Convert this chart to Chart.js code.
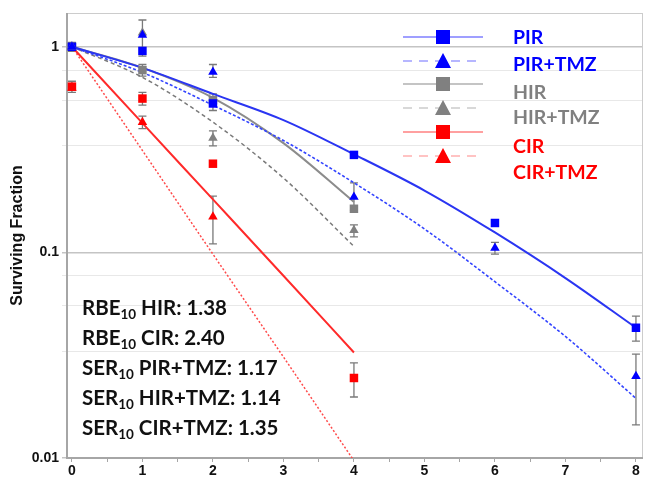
<!DOCTYPE html>
<html>
<head>
<meta charset="utf-8">
<script src="https://cdn.jsdelivr.net/npm/chart.js@4/dist/chart.umd.min.js"></script>
<style>
  body { margin: 0; background: #fff; }
  #wrap { width: 649px; height: 481px; position: relative; }
</style>
</head>
<body>
<div id="wrap"><canvas id="c"></canvas></div>
<script>
'use strict';

// measured doses (Gy)
const doses = [0, 1, 2, 4, 6, 8];
const dosesShort = [0, 1, 2, 4];
const fitDoses = [0, 1, 2, 3, 4, 5, 6, 7, 8];
const fitDosesShort = [0, 1, 2, 3, 4];

// surviving fraction, measured points
const pirVals = [1.0, 0.955, 0.53, 0.298, 0.139, 0.043];
const pirTmzVals = [1.0, 1.14, 0.755, 0.186, 0.105, 0.025];
const hirVals = [1.0, 0.77, 0.55, 0.163];
const hirTmzVals = [1.0, 1.17, 0.36, 0.128];
const cirVals = [0.64, 0.56, 0.27, 0.0245];
const cirTmzVals = [0.63, 0.43, 0.149];

// error bars [low, high], null = none
const pirErr = [null, null, null, null, null, [0.037, 0.049]];
const pirTmzErr = [null, null, [0.71, 0.82], [0.16, 0.218], [0.098, 0.112], [0.0145, 0.032]];
const hirErr = [[0.95, 1.05], [0.72, 0.82], [0.49, 0.59], null];
const hirTmzErr = [null, [0.9, 1.35], [0.33, 0.39], [0.119, 0.136]];
const cirErr = [[0.6, 0.68], [0.52, 0.6], null, [0.0198, 0.029]];
const cirTmzErr = [null, [0.4, 0.46], [0.11, 0.188]];

// fitted curves
const pirFit = [1, 0.79, 0.59, 0.44, 0.30, 0.20, 0.125, 0.075, 0.043];
const pirTmzFit = [1, 0.75, 0.52, 0.35, 0.218, 0.13, 0.072, 0.039, 0.0195];
const hirFit = [1, 0.79, 0.565, 0.34, 0.176];
const hirTmzFit = [1, 0.71, 0.43, 0.23, 0.107];
const cirFit = [1, 0.425, 0.181, 0.077, 0.0326];
const cirTmzFit = [1, 0.313, 0.098, 0.031, 0.0097];

// y grid positions and tick labels
const yGrid = [0.01, 0.033, 0.055, 0.077, 0.1, 0.33, 0.55, 0.77, 1];
const yLabels = { 1: '1', 0.1: '0.1', 0.01: '0.01' };

// legend and annotation text
const legendLabels = ['PIR', 'PIR+TMZ', 'HIR', 'HIR+TMZ', 'CIR', 'CIR+TMZ'];
const notes = [
  ['RBE', '10', ' HIR: 1.38'],
  ['RBE', '10', ' CIR: 2.40'],
  ['SER', '10', ' PIR+TMZ: 1.17'],
  ['SER', '10', ' HIR+TMZ: 1.14'],
  ['SER', '10', ' CIR+TMZ: 1.35']
];

const BLUE = '#0000ff', GRAY = '#808080', RED = '#ff0000';

function pts(xs, ys) {
  return ys.map((v, i) => ({ x: xs[i], y: v }));
}

function fitLine(xs, ys, color, dash, width) {
  return {
    data: pts(xs, ys), showLine: true, pointRadius: 0, borderColor: color,
    borderWidth: width, borderDash: dash, cubicInterpolationMode: 'monotone',
    order: 2, clip: 0
  };
}

function marks(xs, ys, err, color, style, r) {
  return {
    data: pts(xs, ys), err: err, showLine: false, pointStyle: style,
    pointRadius: r, backgroundColor: color, borderColor: color, borderWidth: 0, order: 1
  };
}

// error bars under the markers
const errorBars = {
  id: 'errorBars',
  beforeDatasetsDraw(chart) {
    const ctx = chart.ctx, xs = chart.scales.x, ys = chart.scales.y;
    ctx.save();
    ctx.strokeStyle = '#7a7a7a';
    ctx.lineWidth = 1.3;
    chart.data.datasets.forEach(ds => {
      if (!ds.err) return;
      ds.err.forEach((e, i) => {
        if (!e) return;
        const px = xs.getPixelForValue(ds.data[i].x);
        const lo = ys.getPixelForValue(e[0]), hi = ys.getPixelForValue(e[1]);
        ctx.beginPath();
        ctx.moveTo(px, lo); ctx.lineTo(px, hi);
        ctx.moveTo(px - 4, lo); ctx.lineTo(px + 4, lo);
        ctx.moveTo(px - 4, hi); ctx.lineTo(px + 4, hi);
        ctx.stroke();
      });
    });
    ctx.restore();
  }
};

// plot frame
const frame = {
  id: 'frame',
  beforeDatasetsDraw(chart) {
    const a = chart.chartArea, ctx = chart.ctx;
    ctx.save();
    ctx.strokeStyle = '#cccccc';
    ctx.lineWidth = 1;
    ctx.strokeRect(a.left + 0.5, a.top + 0.5, a.right - a.left - 1, a.bottom - a.top - 1);
    ctx.strokeStyle = '#a6a6a6';
    ctx.lineWidth = 2;
    ctx.beginPath();
    ctx.moveTo(a.left, a.top); ctx.lineTo(a.left, a.bottom); ctx.lineTo(a.right, a.bottom);
    ctx.stroke();
    ctx.restore();
  }
};

// legend block and RBE / SER text
const extras = {
  id: 'extras',
  afterDraw(chart) {
    const ctx = chart.ctx;
    const cols = [BLUE, BLUE, GRAY, GRAY, RED, RED];
    const lineCols = ['#7f7fff', '#9f9fff', '#b0b0b0', '#cccccc', '#ff8080', '#ffb0b0'];
    const rowY = [37, 61, 84, 108, 132, 156];
    const textY = [38, 65, 93, 118, 147, 173];
    ctx.save();
    legendLabels.forEach((lab, i) => {
      ctx.strokeStyle = lineCols[i];
      ctx.lineWidth = 1.5;
      ctx.setLineDash(i % 2 ? [9, 7] : []);
      ctx.beginPath();
      ctx.moveTo(403, rowY[i]); ctx.lineTo(483, rowY[i]);
      ctx.stroke();
      ctx.setLineDash([]);
      ctx.fillStyle = cols[i];
      if (i % 2 === 0) {
        ctx.fillRect(436, rowY[i] - 7, 14, 14);
      } else {
        ctx.beginPath();
        ctx.moveTo(443, rowY[i] - 8); ctx.lineTo(451, rowY[i] + 7); ctx.lineTo(435, rowY[i] + 7);
        ctx.closePath(); ctx.fill();
      }
      ctx.font = 'bold 19.5px Lato';
      ctx.textBaseline = 'middle';
      ctx.fillText(lab, 513, textY[i]);
    });

    ctx.fillStyle = '#111';
    ctx.textBaseline = 'middle';
    notes.forEach((n, i) => {
      const y = 308 + i * 30;
      let x = 82;
      ctx.font = 'bold 20.5px Lato';
      ctx.fillText(n[0], x, y);
      x += ctx.measureText(n[0]).width;
      ctx.font = 'bold 13.5px Lato';
      ctx.fillText(n[1], x, y + 7);
      x += ctx.measureText(n[1]).width;
      ctx.font = 'bold 20.5px Lato';
      ctx.fillText(n[2], x, y);
    });
    ctx.restore();
  }
};

const datasets = [
  fitLine(fitDoses, pirFit, '#2a35f2', [], 2),
  fitLine(fitDoses, pirTmzFit, '#3344ff', [3, 2], 1.6),
  fitLine(fitDosesShort, hirFit, '#8c8c8c', [], 2),
  fitLine(fitDosesShort, hirTmzFit, '#7a7a7a', [4, 3], 1.5),
  fitLine(fitDosesShort, cirFit, '#ff2a2a', [], 2),
  fitLine(fitDosesShort, cirTmzFit, '#ff4a4a', [2, 2], 1.5),
  marks(doses, pirTmzVals, pirTmzErr, BLUE, 'triangle', 5.5),
  marks(dosesShort, hirTmzVals, hirTmzErr, GRAY, 'triangle', 5.5),
  marks(dosesShort.slice(0, 3), cirTmzVals, cirTmzErr, RED, 'triangle', 5.5),
  marks(dosesShort, cirVals, cirErr, RED, 'rect', 6),
  marks(doses, pirVals, pirErr, BLUE, 'rect', 6),
  marks(dosesShort, hirVals, hirErr, GRAY, 'rect', 6)
];

new Chart(document.getElementById('c'), {
  type: 'scatter',
  data: { datasets: datasets },
  options: {
    responsive: true,
    maintainAspectRatio: false,
    animation: false,
    layout: { padding: { top: 13, right: 1, left: 0, bottom: 0 } },
    plugins: { legend: { display: false }, tooltip: { enabled: false } },
    scales: {
      x: {
        type: 'linear', min: -0.07, max: 8.1,
        afterBuildTicks(s) {
          const t = [];
          for (let v = 0; v <= 8; v += 0.5) t.push({ value: v });
          s.ticks = t;
        },
        afterFit(s) { s.height = 23; },
        grid: { drawOnChartArea: false, tickLength: 4, color: '#a6a6a6' },
        border: { display: false },
        ticks: {
          autoSkip: false, maxRotation: 0, padding: 1, color: '#111',
          font: { family: 'Liberation Sans', weight: 'bold', size: 14 },
          callback: v => (Number.isInteger(v) ? String(v) : '')
        }
      },
      y: {
        type: 'logarithmic', min: 0.01, max: 1.46,
        afterBuildTicks(s) { s.ticks = yGrid.map(v => ({ value: v })); },
        afterFit(s) { s.width = 67; },
        grid: {
          tickLength: 5,
          color: c => (yLabels[c.tick.value] ? '#c4c4c4' : '#e8e8e8'),
          lineWidth: c => (yLabels[c.tick.value] ? 1.5 : 1)
        },
        border: { display: false },
        ticks: {
          autoSkip: false, padding: 3, color: '#111',
          font: { family: 'Liberation Sans', weight: 'bold', size: 14 },
          callback: v => yLabels[v] || ''
        },
        title: {
          display: true, text: 'Surviving Fraction', color: '#111',
          padding: { top: 8, bottom: 0 },
          font: { family: 'Liberation Sans', weight: 'bold', size: 16 }
        }
      }
    }
  },
  plugins: [errorBars, frame, extras]
});
</script>
</body>
</html>
